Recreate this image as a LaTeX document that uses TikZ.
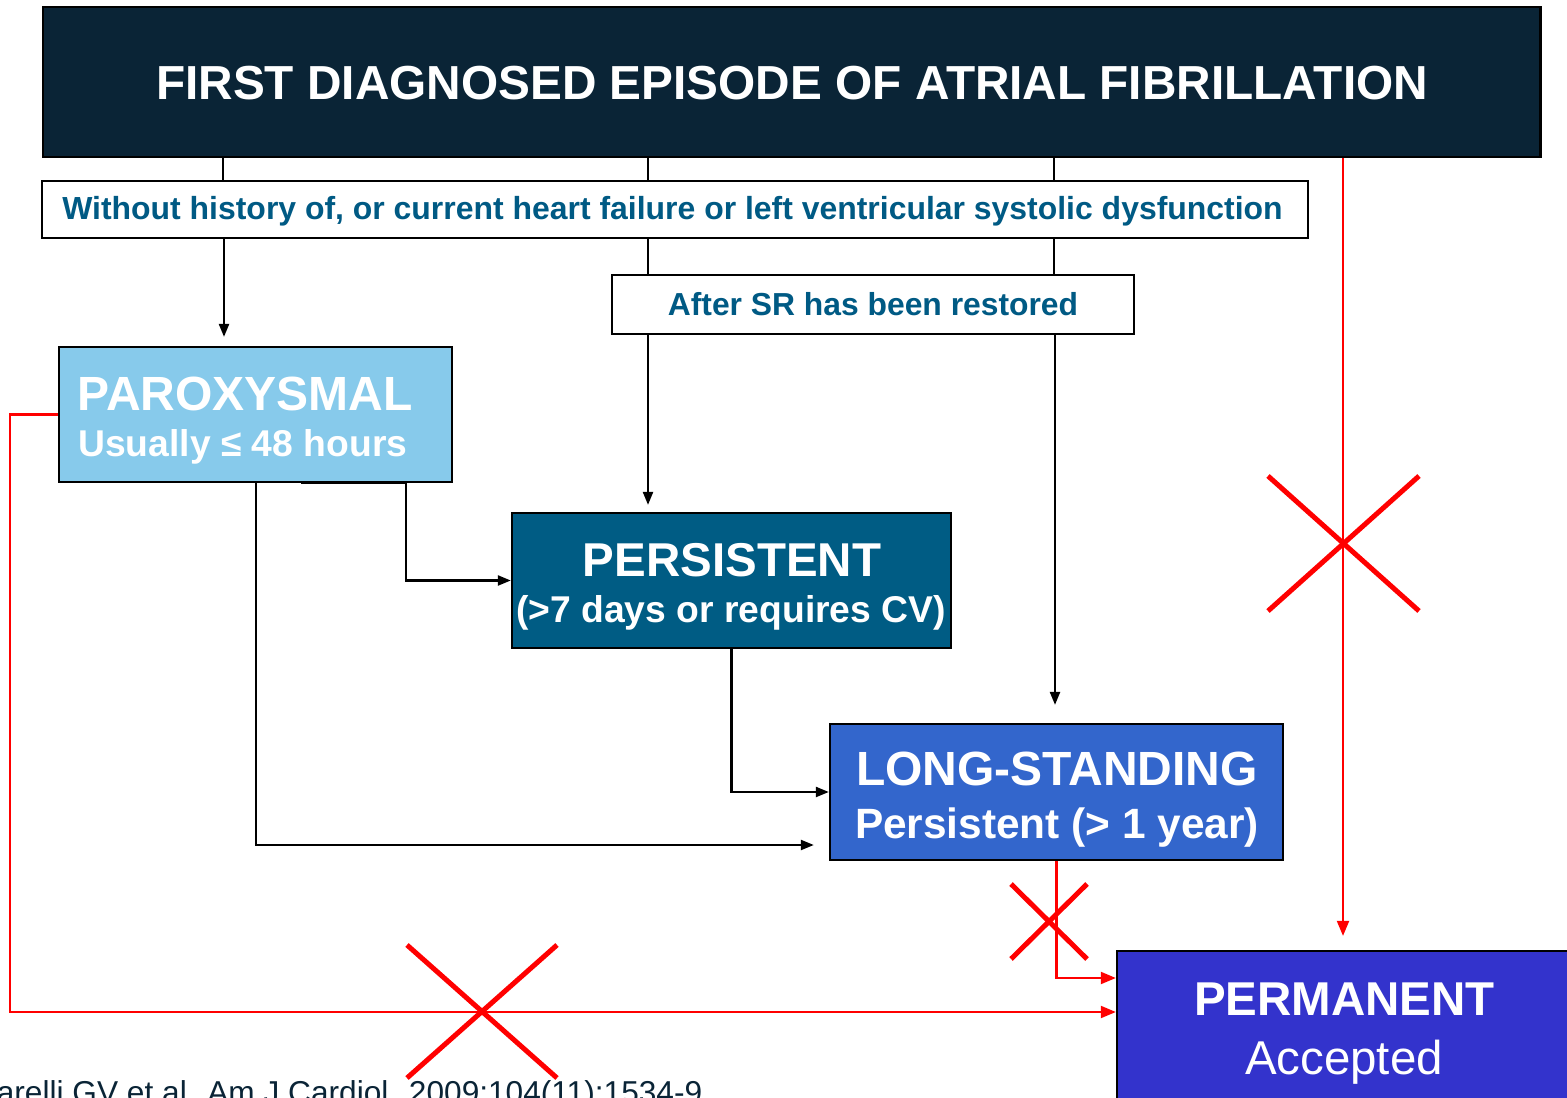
\documentclass[tikz,border=0pt]{standalone}
\usepackage{fontspec}
\setmainfont{Liberation Sans}
\usetikzlibrary{arrows.meta}
\definecolor{navy}{RGB}{10,36,54}
\definecolor{tealtxt}{RGB}{0,90,132}
\definecolor{paroxc}{RGB}{135,202,235}
\definecolor{persc}{RGB}{0,92,132}
\definecolor{longc}{RGB}{51,102,204}
\definecolor{permc}{RGB}{51,51,204}
\definecolor{xred}{RGB}{255,0,0}
\tikzset{
  box/.style={draw=black, line width=0.6pt, inner sep=0pt, rectangle},
  txt/.style={inner sep=0pt, anchor=base},
  conn/.style={draw=black, line width=0.65pt},
  carrow/.style={conn, -{Triangle[length=0.13cm,width=0.1cm]}},
  redline/.style={draw=xred, line width=0.6pt},
  redarrow/.style={redline, -{Triangle[length=0.15cm,width=0.12cm]}},
  cross/.style={draw=xred, line width=0.05cm}
}
\begin{document}
\begin{tikzpicture}[x=0.01cm,y=-0.01cm]
\useasboundingbox (0,0) rectangle (1567,1098);
% boxes
\node[box, fill=navy, minimum width=14.97cm, minimum height=1.5cm] (title) at (791.5,82) {};
\node[box, fill=white, minimum width=12.66cm, minimum height=0.57cm] (cond) at (675,209.5) {};
\node[box, fill=white, minimum width=5.22cm, minimum height=0.59cm] (after) at (873,304.5) {};
\node[box, fill=paroxc, minimum width=3.93cm, minimum height=1.35cm] (parox) at (255.5,414.5) {};
\node[box, fill=persc, minimum width=4.39cm, minimum height=1.35cm] (pers) at (731.5,580.5) {};
\node[box, fill=longc, minimum width=4.53cm, minimum height=1.36cm] (longst) at (1056.5,792) {};
\node[box, fill=permc, minimum width=4.58cm, minimum height=1.59cm] (perm) at (1346,1030.5) {};
% texts
\node[txt, text=white, font=\fontsize{13.58pt}{16pt}\selectfont\bfseries] (titletxt) at (792,100) {FIRST DIAGNOSED EPISODE OF ATRIAL FIBRILLATION};
\node[txt, text=tealtxt, font=\fontsize{9.08pt}{11pt}\selectfont\bfseries] (condtxt) at (672.5,219.5) {Without history of, or current heart failure or left ventricular systolic dysfunction};
\node[txt, text=tealtxt, font=\fontsize{9.05pt}{11pt}\selectfont\bfseries] (aftertxt) at (873,315.7) {After SR has been restored};
\node[txt, anchor=base west, text=white, font=\fontsize{13.65pt}{16pt}\selectfont\bfseries] (paroxa) at (77,410.5) {PAROXYSMAL};
\node[txt, anchor=base west, text=white, font=\fontsize{10.6pt}{13pt}\selectfont\bfseries] (paroxb) at (77.5,457) {Usually ≤ 48 hours};
\node[txt, text=white, font=\fontsize{13.5pt}{16pt}\selectfont\bfseries] (persa) at (732,577) {PERSISTENT};
\node[txt, text=white, font=\fontsize{10.6pt}{13pt}\selectfont\bfseries] (persb) at (731,623) {(>7 days or requires CV)};
\node[txt, text=white, font=\fontsize{13.65pt}{16pt}\selectfont\bfseries] (longa) at (1057,786) {LONG-STANDING};
\node[txt, text=white, font=\fontsize{12.05pt}{14pt}\selectfont\bfseries] (longb) at (1057,838.3) {Persistent (> 1 year)};
\node[txt, text=white, font=\fontsize{13.5pt}{16pt}\selectfont\bfseries] (perma) at (1344.5,1015.7) {PERMANENT};
\node[txt, text=white, font=\fontsize{13.5pt}{16pt}\selectfont] (permb) at (1344,1074) {Accepted};
\node[txt, anchor=base east, text=navy, font=\fontsize{9pt}{11pt}\selectfont] (cite) at (703,1103) {arelli GV et al. Am J Cardiol. 2009;104(11):1534-9};
% black connectors
\draw[conn] (223,0 |- title.south) -- (223,0 |- cond.north);
\draw[conn] (648,0 |- title.south) -- (648,0 |- cond.north);
\draw[conn] (1054,0 |- title.south) -- (1054,0 |- cond.north);
\draw[carrow, shorten >=0.09cm] (224,0 |- cond.south) -- (224,0 |- parox.north);
\draw[conn] (648,0 |- cond.south) -- (648,0 |- after.north);
\draw[conn] (1054,0 |- cond.south) -- (1054,0 |- after.north);
\draw[carrow, shorten >=0.07cm] (648,0 |- after.south) -- (648,0 |- pers.north);
\draw[carrow, shorten >=0.18cm] (1055,0 |- after.south) -- (1055,0 |- longst.north);
\draw[carrow] (301,0 |- parox.south) -- (406,0 |- parox.south) |- (pers.west);
\draw[carrow, shorten >=0.15cm] (256,0 |- parox.south) |- (longst.west |- 0,845);
\draw[carrow] (pers.south) |- (longst.west);
% red connectors
\draw[redarrow] (parox.west) -- ++(-48,0) |- (perm.west |- 0,1012);
\draw[redarrow] (longst.south) |- (perm.west |- 0,978);
\draw[redarrow, shorten >=0.14cm] (1343,0 |- title.south) -- (1343,0 |- perm.north);
% crosses
\draw[cross] (1268,476) -- (1419,611);
\draw[cross] (1268,611) -- (1419,476);
\draw[cross] (407,945) -- (557,1078);
\draw[cross] (407,1078) -- (557,945);
\draw[cross] (1011,884) -- (1087,959);
\draw[cross] (1011,959) -- (1087,884);
\end{tikzpicture}
\end{document}
